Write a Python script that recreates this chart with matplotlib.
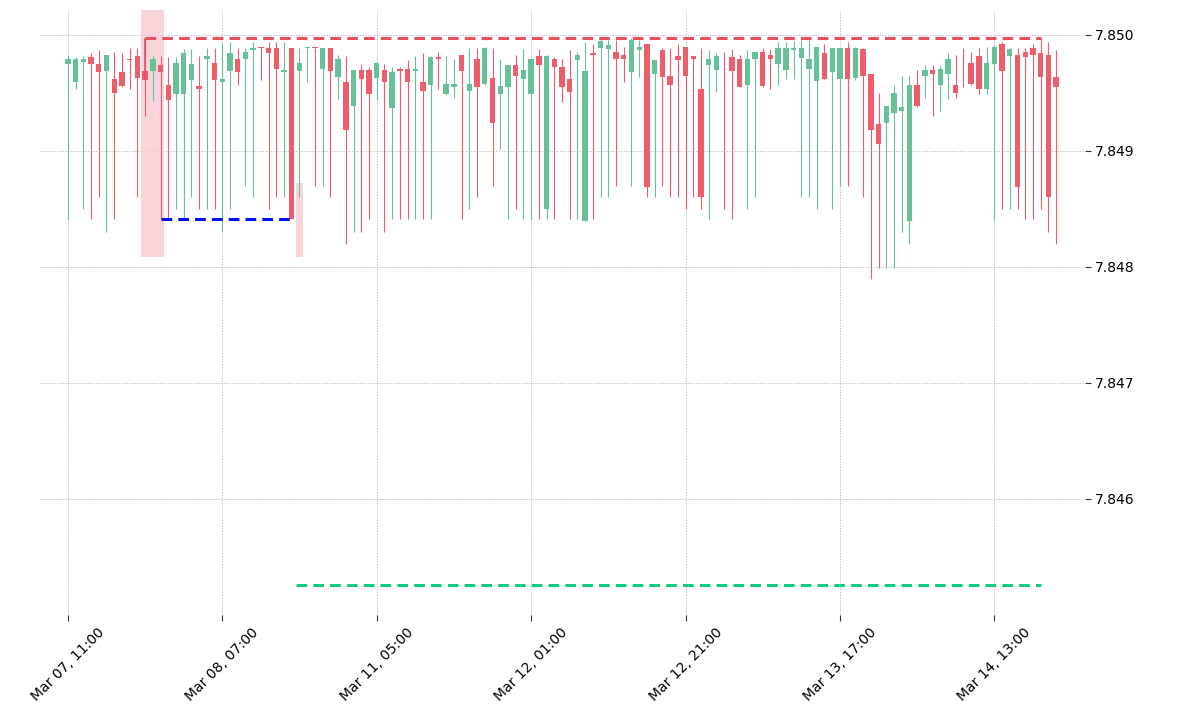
import matplotlib
matplotlib.use("Agg")
import matplotlib.pyplot as plt

opens = [7.84975,7.84959,7.84977,7.84981,7.84975,7.84969,7.84962,7.84968,7.84979,7.84982,
7.84969,7.84969,7.84974,7.84957,7.84949,7.84949,7.84961,7.84956,7.84979,7.84976,
7.84959,7.84969,7.84979,7.84979,7.84987,7.849895,7.84989,7.84989,7.84968,7.84989,
7.84969,7.84989,7.84989,7.84971,7.84989,7.84964,7.84959,7.84939,7.84970,7.84970,
7.84963,7.84970,7.84937,7.84971,7.84971,7.84969,7.84959,7.84957,7.84981,7.84949,
7.84955,7.84983,7.84952,7.84979,7.84958,7.84963,7.84949,7.84955,7.84974,7.84962,
7.84949,7.84982,7.84850,7.84979,7.84972,7.84962,7.84978,7.84840,7.849845,7.84989,
7.84988,7.84985,7.84983,7.84968,7.84987,7.84992,7.84966,7.84987,7.84965,7.84982,
7.84990,7.84982,7.84953,7.84974,7.84970,7.84979,7.84981,7.84979,7.84957,7.84979,
7.84985,7.84983,7.84975,7.84970,7.84987,7.84980,7.84971,7.84960,7.84984,7.84968,
7.84962,7.84989,7.84963,7.84988,7.84966,7.84923,7.84924,7.84933,7.84934,7.84840,
7.84957,7.84965,7.84970,7.84957,7.84966,7.84957,7.84979,7.84976,7.84982,7.84953,
7.84975,7.84992,7.84982,7.84983,7.84985,7.84989,7.84984,7.84983,7.84964]
closes = [7.84979,7.84979,7.84979,7.84975,7.84968,7.84983,7.84950,7.84956,7.84978,7.84963,
7.84961,7.84979,7.84968,7.84944,7.84976,7.84984,7.84975,7.84953,7.84982,7.84961,
7.84962,7.84984,7.84968,7.84985,7.84989,7.84989,7.84984,7.84971,7.84970,7.84841,
7.84976,7.84989,7.849888,7.84989,7.84969,7.84979,7.84918,7.84970,7.84962,7.84949,
7.84976,7.84959,7.84968,7.84969,7.84959,7.84971,7.84952,7.84981,7.84979,7.84958,
7.84958,7.84969,7.84958,7.84955,7.84989,7.84924,7.84956,7.84974,7.84965,7.84970,
7.84979,7.84974,7.84982,7.84972,7.84955,7.84951,7.84983,7.84969,7.84983,7.84995,
7.84991,7.84979,7.84979,7.84996,7.84990,7.84869,7.84978,7.84964,7.84957,7.84978,
7.84965,7.84979,7.84860,7.84979,7.84982,7.849788,7.84969,7.84955,7.84979,7.84985,
7.84956,7.84979,7.84989,7.84989,7.84989,7.84989,7.84979,7.84990,7.84962,7.84989,
7.84989,7.84962,7.84989,7.84965,7.84918,7.84906,7.84939,7.84950,7.84938,7.84957,
7.84939,7.84970,7.84966,7.84971,7.84979,7.84950,7.849788,7.84958,7.84953,7.84976,
7.84990,7.84969,7.84988,7.84869,7.84981,7.84983,7.84964,7.84860,7.84955]
highs = [7.84983,7.84981,7.84982,7.84984,7.84987,7.84983,7.84985,7.84984,7.84989,7.84989,
7.84997,7.84982,7.84982,7.84981,7.84981,7.84988,7.84988,7.84982,7.84989,7.84989,
7.84993,7.84994,7.84989,7.84989,7.84994,7.84990,7.84994,7.84994,7.84994,7.84989,
7.84989,7.84989,7.84989,7.84989,7.84989,7.84983,7.84982,7.84970,7.84975,7.84972,
7.84976,7.84975,7.84972,7.84972,7.84978,7.84982,7.84984,7.84982,7.84985,7.84982,
7.84979,7.84983,7.84989,7.84989,7.84990,7.84989,7.84979,7.84974,7.84983,7.84988,
7.84979,7.84988,7.84983,7.84981,7.84979,7.84987,7.84985,7.84994,7.84992,7.84996,
7.84996,7.84996,7.84990,7.84997,7.84996,7.84992,7.84978,7.84989,7.84989,7.84992,
7.84990,7.84982,7.84989,7.84987,7.84984,7.84985,7.84988,7.84983,7.84987,7.84985,
7.84989,7.84988,7.84994,7.84994,7.84995,7.84996,7.84996,7.84990,7.84992,7.84989,
7.84989,7.84994,7.84990,7.84989,7.84966,7.84950,7.84939,7.84957,7.84965,7.84965,
7.84970,7.84974,7.84974,7.84974,7.84984,7.84983,7.84989,7.84985,7.84989,7.84990,
7.84991,7.84994,7.84989,7.84989,7.84989,7.84992,7.84997,7.84994,7.84987]
lows = [7.84841,7.84953,7.84850,7.84841,7.84860,7.84830,7.84841,7.84955,7.84953,7.84860,
7.84930,7.84943,7.84841,7.84841,7.84850,7.84841,7.84860,7.84850,7.84850,7.84850,
7.84830,7.84850,7.84957,7.84870,7.84860,7.84961,7.84850,7.84860,7.84860,7.84841,
7.84860,7.84959,7.84870,7.84870,7.84860,7.84945,7.84820,7.84830,7.84830,7.84841,
7.84944,7.84830,7.84841,7.84841,7.84841,7.84841,7.84841,7.84841,7.84953,7.84948,
7.84946,7.84841,7.84850,7.84860,7.84957,7.84870,7.84902,7.84841,7.84850,7.84841,
7.84841,7.84841,7.84841,7.84841,7.84942,7.84841,7.84841,7.84840,7.84841,7.84860,
7.84860,7.84870,7.84959,7.84870,7.84964,7.84860,7.84860,7.84870,7.84860,7.84860,
7.84850,7.84860,7.84850,7.84841,7.84951,7.84850,7.84841,7.84955,7.84850,7.84860,
7.84955,7.84953,7.84957,7.84962,7.84962,7.84860,7.84860,7.84850,7.84962,7.84850,
7.84870,7.84870,7.84961,7.84860,7.84790,7.84799,7.84799,7.84799,7.84830,7.84820,
7.84938,7.84946,7.84930,7.84934,7.84945,7.84946,7.84955,7.84957,7.84949,7.84949,
7.84840,7.84850,7.84850,7.84850,7.84841,7.84841,7.84850,7.84830,7.84820]
tick_labels = ["Mar 07, 11:00","Mar 08, 07:00","Mar 11, 05:00","Mar 12, 01:00",
               "Mar 12, 21:00","Mar 13, 17:00","Mar 14, 13:00"]
resistance = 7.84997
support_blue = 7.84841
support_green = 7.84526

GREEN = "#66c296"
RED = "#ee5d6c"

fig = plt.figure(figsize=(11.79, 7.11), dpi=100)
ax = fig.add_axes([0.034, 0.135, 0.886, 0.851])

n = len(opens)
for i in range(n):
    o, c, h, l = opens[i], closes[i], highs[i], lows[i]
    col = GREEN if c >= o else RED
    ax.vlines(i, l, h, color=col, linewidth=0.8, zorder=3)
    lo, hi = min(o, c), max(o, c)
    ax.bar(i, max(hi - lo, 0.000004), bottom=lo, width=0.7, color=col, zorder=4, linewidth=0)

ax.fill_between([9.5, 12.5], 7.84809, 7.85025, color="#f8cdd3", alpha=0.85, zorder=1, linewidth=0)
ax.fill_between([29.5, 30.4], 7.84809, 7.84872, color="#f8cdd3", alpha=0.85, zorder=1, linewidth=0)

ax.hlines(resistance, 10, 126, colors="#e8505f", linestyles=(0, (3.5, 2)), linewidth=2.2, zorder=5)
ax.vlines(10, closes[10], resistance, colors="#e8505f", linewidth=1.2, zorder=5)
ax.hlines(support_blue, 12, 29, colors="#0010ee", linestyles=(0, (3.5, 2)), linewidth=2.2, zorder=5)
ax.hlines(support_green, 29.5, 126, colors="#11cc80", linestyles=(0, (3.5, 2)), linewidth=2.2, zorder=5)

ax.set_xlim(-3.6, 131.7)
ax.set_ylim(7.84500, 7.850215)
ax.set_xticks(range(0, 121, 20))
ax.set_xticklabels(tick_labels, rotation=45, fontsize=10)
ax.set_yticks([7.846, 7.847, 7.848, 7.849, 7.850])
ax.set_yticklabels(["7.846", "7.847", "7.848", "7.849", "7.850"], fontsize=10)
ax.yaxis.tick_right()
ax.grid(True, color="#aaaaaa", linestyle=(0, (2, 2)), linewidth=0.5)
ax.set_axisbelow(True)
for s in ax.spines.values():
    s.set_visible(False)
ax.tick_params(axis="both", length=4, color="#333333")

fig.savefig("out.png", dpi=100)
